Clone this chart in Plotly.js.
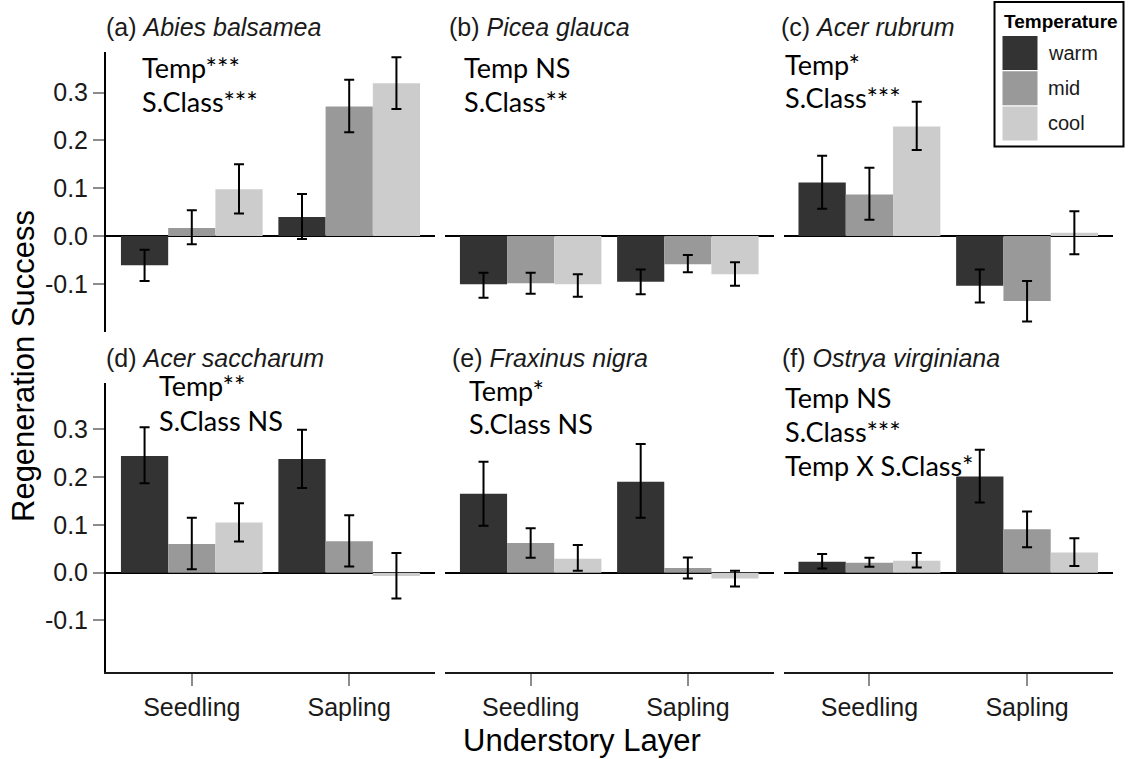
<!DOCTYPE html>
<html>
<head>
<meta charset="utf-8">
<script src="https://cdn.plot.ly/plotly-3.0.1.min.js"></script>
<style>html,body{margin:0;padding:0;background:#fff;}#chart{width:1130px;height:759px;}</style>
</head>
<body>
<div id="chart"></div>
<script>
// ---------------- DATA ----------------
const layers = ["Seedling", "Sapling"];
const temps = ["warm", "mid", "cool"];
const panelTitles = [
  "(a) <i>Abies balsamea</i>",
  "(b) <i>Picea glauca</i>",
  "(c) <i>Acer rubrum</i>",
  "(d) <i>Acer saccharum</i>",
  "(e) <i>Fraxinus nigra</i>",
  "(f) <i>Ostrya virginiana</i>"
];
const panelStats = [
  ["Temp***", "S.Class***"],
  ["Temp NS", "S.Class**"],
  ["Temp*", "S.Class***"],
  ["Temp**", "S.Class NS"],
  ["Temp*", "S.Class NS"],
  ["Temp NS", "S.Class***", "Temp X S.Class*"]
];
const yTickVals = [-0.1, 0.0, 0.1, 0.2, 0.3];
const yTickText = ["-0.1", "0.0", "0.1", "0.2", "0.3"];

// means: rows = warm, mid, cool; cols = Seedling, Sapling
const abiesMean = [[-0.061, 0.040], [0.017, 0.271], [0.098, 0.320]];
const abiesLo   = [[-0.094, -0.006], [-0.017, 0.217], [0.047, 0.266]];
const abiesHi   = [[-0.029, 0.088], [0.054, 0.327], [0.150, 0.374]];

const piceaMean = [[-0.101, -0.096], [-0.099, -0.059], [-0.101, -0.080]];
const piceaLo   = [[-0.129, -0.122], [-0.121, -0.076], [-0.127, -0.104]];
const piceaHi   = [[-0.077, -0.070], [-0.077, -0.040], [-0.080, -0.055]];

const rubrumMean = [[0.112, -0.104], [0.087, -0.136], [0.229, 0.007]];
const rubrumLo   = [[0.057, -0.139], [0.034, -0.179], [0.180, -0.038]];
const rubrumHi   = [[0.168, -0.070], [0.143, -0.094], [0.281, 0.052]];

const saccharumMean = [[0.244, 0.238], [0.060, 0.066], [0.105, -0.007]];
const saccharumLo   = [[0.187, 0.177], [0.007, 0.013], [0.065, -0.054]];
const saccharumHi   = [[0.304, 0.299], [0.115, 0.120], [0.145, 0.041]];

const fraxinusMean = [[0.165, 0.190], [0.062, 0.010], [0.029, -0.012]];
const fraxinusLo   = [[0.098, 0.115], [0.031, -0.012], [0.004, -0.029]];
const fraxinusHi   = [[0.232, 0.269], [0.093, 0.032], [0.058, 0.004]];

const ostryaMean = [[0.023, 0.201], [0.021, 0.091], [0.025, 0.042]];
const ostryaLo   = [[0.009, 0.147], [0.0125, 0.053], [0.011, 0.014]];
const ostryaHi   = [[0.039, 0.257], [0.031, 0.128], [0.041, 0.072]];

const panelMeans = [abiesMean, piceaMean, rubrumMean, saccharumMean, fraxinusMean, ostryaMean];
const panelLos = [abiesLo, piceaLo, rubrumLo, saccharumLo, fraxinusLo, ostryaLo];
const panelHis = [abiesHi, piceaHi, rubrumHi, saccharumHi, fraxinusHi, ostryaHi];

// ---------------- STYLE / LAYOUT ----------------
const W = 1130, H = 759;
const tempColors = ["#333333", "#999999", "#cccccc"];
const colPx = [[106, 435], [445, 773.5], [783.5, 1113]];
const rowPx = [[51.7, 331.7], [383.3, 672.3]];
const rowRanges = [[-0.2003, 0.3858], [-0.2084, 0.3962]];
const xRange = [-0.545, 1.545];
const SANS = "Liberation Sans, Arial, sans-serif";
const STATFONT = "Lato, Carlito, Calibri, sans-serif";

const px2x = p => p / W;
const px2y = p => 1 - p / H;

const traces = [];
const layout = {
  width: W, height: H,
  margin: {l: 0, r: 0, t: 0, b: 0},
  paper_bgcolor: "#ffffff", plot_bgcolor: "rgba(0,0,0,0)",
  showlegend: false,
  barmode: "group", bargap: 0.1, bargroupgap: 0,
  font: {family: SANS, color: "#1a1a1a", size: 25},
  annotations: [], shapes: []
};

for (let p = 0; p < 6; p++) {
  const row = Math.floor(p / 3), col = p % 3;
  const sfx = p === 0 ? "" : String(p + 1);
  const xa = "x" + sfx, ya = "y" + sfx;
  for (let t = 0; t < temps.length; t++) {
    const m = panelMeans[p][t], lo = panelLos[p][t], hi = panelHis[p][t];
    traces.push({
      type: "bar", name: temps[t], x: layers, y: m,
      xaxis: xa, yaxis: ya,
      marker: {color: tempColors[t], line: {width: 0}},
      offsetgroup: temps[t],
      error_y: {
        type: "data", symmetric: false,
        array: m.map((v, i) => hi[i] - v),
        arrayminus: m.map((v, i) => v - lo[i]),
        color: "#000000", thickness: 2, width: 5
      },
      hoverinfo: "skip"
    });
  }
  const xKey = "xaxis" + sfx, yKey = "yaxis" + sfx;
  const isBottom = row === 1, isLeft = col === 0;
  layout[xKey] = {
    domain: [px2x(colPx[col][0]), px2x(colPx[col][1])],
    anchor: ya, range: xRange, type: "category", categoryorder: "array", categoryarray: layers,
    showgrid: false, zeroline: false, fixedrange: true,
    showline: isBottom, linecolor: "#1a1a1a", linewidth: 2,
    ticks: isBottom ? "outside" : "", ticklen: 12, tickwidth: 2, tickcolor: "#8c8c8c",
    showticklabels: isBottom, tickfont: {family: SANS, size: 25, color: "#1a1a1a"}
  };
  layout[yKey] = {
    domain: [px2y(rowPx[row][1]), px2y(rowPx[row][0])],
    anchor: xa, range: rowRanges[row], fixedrange: true,
    showgrid: false, zeroline: true, zerolinecolor: "#000000", zerolinewidth: 2,
    showline: isLeft, linecolor: "#000000", linewidth: 2,
    ticks: isLeft ? "outside" : "", ticklen: 11, tickwidth: 2, tickcolor: "#8c8c8c",
    showticklabels: isLeft, tickmode: "array", tickvals: yTickVals, ticktext: yTickText,
    tickfont: {family: SANS, size: 25, color: "#1a1a1a"}
  };
}

// panel titles (pixel positions of left edge & vertical centre)
const titlePos = [[104, 27], [447, 27], [779, 27], [104, 358], [450, 358], [780, 358]];
for (let p = 0; p < 6; p++) {
  layout.annotations.push({
    xref: "paper", yref: "paper", x: px2x(titlePos[p][0]), y: px2y(titlePos[p][1]),
    xanchor: "left", yanchor: "middle", showarrow: false,
    text: panelTitles[p], font: {family: SANS, size: 25, color: "#1a1a1a"}
  });
}

// statistics text (left edge & first-line centre, line step)
const statPos = [[140, 67, 34], [462, 67, 34], [783, 64, 33], [157, 385, 35], [467, 390, 33.5], [783, 397, 34]];
for (let p = 0; p < 6; p++) {
  panelStats[p].forEach((s, i) => {
    layout.annotations.push({
      xref: "paper", yref: "paper", x: px2x(statPos[p][0]), y: px2y(statPos[p][1] + i * statPos[p][2]),
      xanchor: "left", yanchor: "middle", showarrow: false,
      text: s, font: {family: STATFONT, size: 27, color: "#000000"}
    });
  });
}

// axis titles
layout.annotations.push({
  xref: "paper", yref: "paper", x: px2x(23), y: px2y(366), textangle: -90,
  xanchor: "center", yanchor: "middle", showarrow: false,
  text: "Regeneration Success", font: {family: SANS, size: 31, color: "#000000"}
});
layout.annotations.push({
  xref: "paper", yref: "paper", x: px2x(582), y: px2y(740),
  xanchor: "center", yanchor: "middle", showarrow: false,
  text: "Understory Layer", font: {family: SANS, size: 31, color: "#000000"}
});

// legend (custom, built from temps & colours)
layout.shapes.push({
  type: "rect", xref: "paper", yref: "paper",
  x0: px2x(994.5), x1: px2x(1123.5), y0: px2y(146.5), y1: px2y(2),
  line: {color: "#000000", width: 2}, fillcolor: "#ffffff", layer: "below"
});
layout.annotations.push({
  xref: "paper", yref: "paper", x: px2x(1002), y: px2y(21.5),
  xanchor: "left", yanchor: "middle", showarrow: false,
  text: "<b>Temperature</b>", font: {family: SANS, size: 19, color: "#000000"}
});
temps.forEach((t, i) => {
  const top = 36 + i * 35.2;
  layout.shapes.push({
    type: "rect", xref: "paper", yref: "paper",
    x0: px2x(1002.5), x1: px2x(1037.5), y0: px2y(top + 34), y1: px2y(top),
    line: {width: 0}, fillcolor: tempColors[i]
  });
  layout.annotations.push({
    xref: "paper", yref: "paper", x: px2x(1046), y: px2y(top + 17),
    xanchor: "left", yanchor: "middle", showarrow: false,
    text: t, font: {family: SANS, size: 20, color: "#1a1a1a"}
  });
});

Plotly.newPlot("chart", traces, layout, {staticPlot: true, displayModeBar: false});
</script>
</body>
</html>
